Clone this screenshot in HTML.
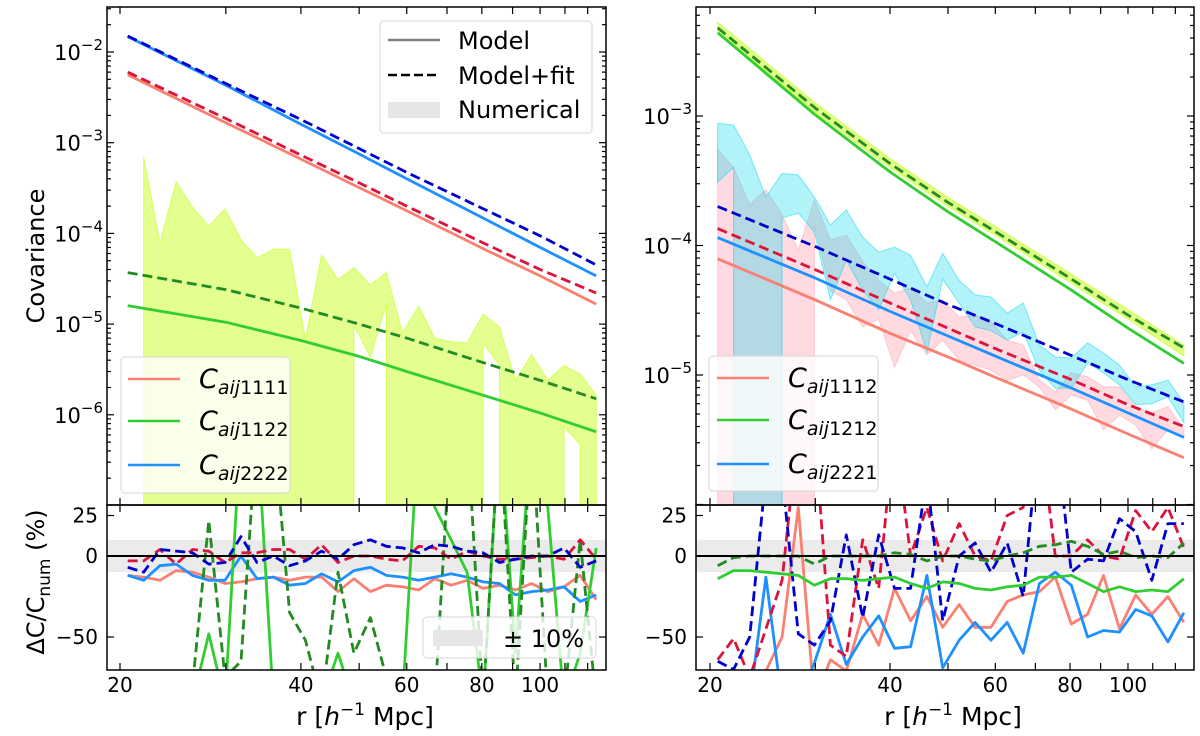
<!DOCTYPE html>
<html><head><meta charset="utf-8">
<style>
html,body{margin:0;padding:0;background:#fff;width:1200px;height:736px;overflow:hidden;}
svg{display:block;font-family:"DejaVu Sans","Liberation Sans",sans-serif;}
</style></head>
<body>
<svg id="fig" width="1200" height="736" viewBox="0 0 1200 736" xmlns="http://www.w3.org/2000/svg">
<defs>
<clipPath id="cTL"><rect x="107" y="7" width="499" height="498"/></clipPath>
<clipPath id="cBL"><rect x="107" y="505" width="499" height="165"/></clipPath>
<clipPath id="cTR"><rect x="696" y="7" width="498" height="498"/></clipPath>
<clipPath id="cBR"><rect x="696" y="505" width="498" height="165"/></clipPath>
</defs>
<g id="gTL" clip-path="url(#cTL)"></g>
<g id="gBL" clip-path="url(#cBL)"></g>
<g id="gTR" clip-path="url(#cTR)"></g>
<g id="gBR" clip-path="url(#cBR)"></g>
<g id="axes"></g>

<text transform="translate(44,256) rotate(-90)" text-anchor="middle" font-size="24">Covariance</text>
<text transform="translate(44,582) rotate(-90)" text-anchor="middle" font-size="24">ΔC/C<tspan font-size="17" dy="6">num</tspan><tspan dy="-6"> (%)</tspan></text>
<text x="365" y="725" text-anchor="middle" font-size="25">r [<tspan font-style="italic">h</tspan><tspan font-size="17" dy="-10">−1</tspan><tspan dy="10"> Mpc]</tspan></text>
<text x="953" y="725" text-anchor="middle" font-size="25">r [<tspan font-style="italic">h</tspan><tspan font-size="17" dy="-10">−1</tspan><tspan dy="10"> Mpc]</tspan></text>

<g>
<rect x="380" y="21" width="212" height="112" rx="4" fill="#fff" fill-opacity="0.8" stroke="#d6d6d6"/>
<line x1="388" y1="40" x2="440" y2="40" stroke="#808080" stroke-width="2.5"/>
<line x1="388" y1="75" x2="440" y2="75" stroke="#000" stroke-width="2.5" stroke-dasharray="9,4"/>
<rect x="388" y="102" width="52" height="16" fill="#e6e6e6"/>
<text x="458" y="49" font-size="24">Model</text>
<text x="458" y="84" font-size="24">Model+fit</text>
<text x="458" y="118" font-size="24">Numerical</text>
</g>
<g>
<rect x="121" y="357" width="169" height="136" rx="4" fill="#fff" fill-opacity="0.8" stroke="#d6d6d6"/>
<line x1="128" y1="379" x2="180" y2="379" stroke="#fa8072" stroke-width="2.5"/>
<line x1="128" y1="421" x2="180" y2="421" stroke="#32cd32" stroke-width="2.5"/>
<line x1="128" y1="465" x2="180" y2="465" stroke="#1e90ff" stroke-width="2.5"/>
<text x="199" y="388" font-size="27" font-style="italic">C<tspan font-size="19" dy="6">aij</tspan><tspan font-size="19" font-style="normal">1111</tspan></text>
<text x="199" y="430" font-size="27" font-style="italic">C<tspan font-size="19" dy="6">aij</tspan><tspan font-size="19" font-style="normal">1122</tspan></text>
<text x="199" y="474" font-size="27" font-style="italic">C<tspan font-size="19" dy="6">aij</tspan><tspan font-size="19" font-style="normal">2222</tspan></text>
</g>
<g>
<rect x="709" y="356" width="169" height="135" rx="4" fill="#fff" fill-opacity="0.8" stroke="#d6d6d6"/>
<line x1="717" y1="378" x2="769" y2="378" stroke="#fa8072" stroke-width="2.5"/>
<line x1="717" y1="420" x2="769" y2="420" stroke="#32cd32" stroke-width="2.5"/>
<line x1="717" y1="464" x2="769" y2="464" stroke="#1e90ff" stroke-width="2.5"/>
<text x="788" y="387" font-size="27" font-style="italic">C<tspan font-size="19" dy="6">aij</tspan><tspan font-size="19" font-style="normal">1112</tspan></text>
<text x="788" y="429" font-size="27" font-style="italic">C<tspan font-size="19" dy="6">aij</tspan><tspan font-size="19" font-style="normal">1212</tspan></text>
<text x="788" y="473" font-size="27" font-style="italic">C<tspan font-size="19" dy="6">aij</tspan><tspan font-size="19" font-style="normal">2221</tspan></text>
</g>
<g>
<rect x="423" y="617" width="173" height="41" rx="4" fill="#fff" fill-opacity="0.8" stroke="#d6d6d6"/>
<rect x="433" y="630" width="50" height="16" fill="#e6e6e6"/>
<text x="503" y="647" font-size="24">± 10%</text>
</g>
</svg>

<script>
const R = [20.6,21.9,23.3,24.8,26.4,28.1,29.9,31.8,33.8,36.0,38.3,40.7,43.3,46.1,49.0,52.2,55.5,59.0,62.8,66.8,71.1,75.6,80.4,85.6,91.0,96.8,103.0,109.6,116.6,124.0];
const rKnots = [20.6,30,40,50,60,80,100,124];
const L1111 = [5.6e-3,1.66e-3,6.6e-4,3.2e-4,1.78e-4,6.9e-5,3.4e-5,1.66e-5];
const L1111fit = [6.0e-3,1.85e-3,7.3e-4,3.6e-4,2.0e-4,8.0e-5,4.0e-5,2.2e-5];
const L2222 = [1.48e-2,4.3e-3,1.6e-3,7.5e-4,4.0e-4,1.5e-4,7.0e-5,3.4e-5];
const L2222fit = [1.5e-2,4.5e-3,1.8e-3,8.6e-4,4.7e-4,1.9e-4,9.4e-5,4.5e-5];
const L1122 = [1.6e-5,1.05e-5,6.6e-6,4.4e-6,3.0e-6,1.66e-6,1.05e-6,6.5e-7];
const L1122fit = [3.7e-5,2.4e-5,1.5e-5,1.0e-5,7.0e-6,3.8e-6,2.4e-6,1.5e-6];
const L1122bandUp = [null,6.9e-4,7.8e-5,3.7e-4,1.95e-4,1.2e-4,1.86e-4,8.5e-5,5.4e-5,6.7e-5,6.7e-5,6.7e-6,5.8e-5,3.1e-5,4.2e-5,2.7e-5,3.7e-5,8.0e-6,1.58e-5,7.0e-6,6.4e-6,6.2e-6,1.29e-5,9.3e-6,2.4e-6,4.6e-6,2.4e-6,3.5e-6,2.8e-6,1.65e-6];
const L1122bandLo = [null,null,null,null,null,null,null,null,null,null,null,null,null,null,9.8e-6,4.3e-6,1.7e-5,null,null,null,null,null,6.2e-6,3.5e-6,null,null,null,7.4e-7,4.7e-7,null];
const dL1111 = [-12,-13,-15,-9,-10,-13,-17,-16,-14,-13,-15,-13,-13,-22,-14,-22,-18,-19,-21,-14,-18,-15,-20,-18,-21,-17,-22,-19,-12,-27];
const dL2222 = [-12,-15,-6,-5,-12,-15,-15,0,-14,-13,-18,-17,-11,-16,-9,-7,-12,-13,-15,-13,-11,-13,-16,-17,-24,-22,-21,-19,-28,-24];
const dL1111fit = [-3,-3,4,-5,4,3,-4,2,2,4,4,-2,7,-4,0,0,-2,-3,6,5,-2,3,0,-2,-2,-1,0,-2,10,-2];
const dL2222fit = [-7,-10,4,3,2,-5,-4,12,-4,0,-6,-3,3,-2,7,10,6,5,2,7,6,3,2,-4,-2,0,0,5,-7,-3];
const dL1122 = [-90,-90,-90,-90,-90,-48,-90,80,80,-90,-90,-90,-90,-60,-90,-90,-90,-90,80,30,10,-10,-90,80,-60,80,30,-90,-60,5];
const dL1122fit = [-90,-90,-90,-90,-80,22,-75,-65,80,80,-35,-52,-90,-10,-60,-38,-75,-90,-90,-90,80,80,-90,80,-90,80,-90,-90,10,-90];
const R1212 = [4.4e-3,1.02e-3,3.7e-4,1.82e-4,1.07e-4,4.6e-5,2.3e-5,1.23e-5];
const R1212fit = [4.8e-3,1.15e-3,4.3e-4,2.15e-4,1.28e-4,5.6e-5,2.9e-5,1.62e-5];
const R1212bandUp = [5.3e-3,1.26e-3,4.7e-4,2.35e-4,1.4e-4,6.1e-5,3.2e-5,1.7e-5];
const R1212bandLo = [4.5e-3,1.07e-3,4.0e-4,2.0e-4,1.2e-4,5.2e-5,2.7e-5,1.4e-5];
const R1112 = [7.9e-5,3.8e-5,2.1e-5,1.38e-5,9.6e-6,5.5e-6,3.5e-6,2.3e-6];
const R1112fit = [1.35e-4,6.5e-5,3.6e-5,2.3e-5,1.6e-5,9.3e-6,5.9e-6,4.0e-6];
const R2221 = [1.15e-4,5.6e-5,3.1e-5,2.0e-5,1.4e-5,8.0e-6,5.1e-6,3.3e-6];
const R2221fit = [2.0e-4,9.8e-5,5.5e-5,3.5e-5,2.5e-5,1.43e-5,9.2e-6,6.2e-6];
const R2221bandUp = [8.8e-4,8.5e-4,5.0e-4,2.37e-4,3.6e-4,3.5e-4,2.37e-4,1.44e-4,1.88e-4,1.16e-4,8.9e-5,9.7e-5,8.4e-5,4.8e-5,8.7e-5,5.4e-5,4.15e-5,4.0e-5,3.0e-5,3.6e-5,1.7e-5,1.38e-5,1.35e-5,1.77e-5,1.48e-5,1.19e-5,8.1e-6,8.4e-6,9.1e-6,6.1e-6];
const R2221bandLo = [3.1e-4,4.0e-4,null,null,1.63e-4,1.78e-4,1.27e-4,3.8e-5,7.7e-5,4.5e-5,3.2e-5,6.1e-5,3.8e-5,1.5e-5,5.5e-5,3.6e-5,2.35e-5,2.2e-5,1.86e-5,2.15e-5,1.09e-5,7.9e-6,7.9e-6,1.24e-5,1.04e-5,8.4e-6,5.9e-6,6.0e-6,6.8e-6,4.3e-6];
const R1112bandUp = [5.5e-4,4.0e-4,2.05e-4,2.7e-4,1.72e-4,9.2e-5,2.25e-4,1.1e-4,1.2e-4,7.5e-5,5.4e-5,4.3e-5,4.7e-5,3.6e-5,3.8e-5,2.8e-5,2.9e-5,2.57e-5,1.86e-5,1.7e-5,9.1e-6,7.4e-6,1.04e-5,9.7e-6,8.1e-6,8.1e-6,5.7e-6,5.1e-6,5.7e-6,3.8e-6];
const R1112bandLo = [1.78e-4,null,null,null,null,null,1.44e-4,4.5e-5,3.8e-5,2.35e-5,2.7e-5,1.15e-5,2.2e-5,1.43e-5,1.86e-5,1.3e-5,1.19e-5,1.09e-5,9.1e-6,1.0e-5,8.1e-6,5.4e-6,7.0e-6,6.4e-6,3.8e-6,4.9e-6,4.1e-6,2.7e-6,3.8e-6,3.3e-6];
const dR1212 = [-14,-9,-9,-10,-11,-12,-18,-14,-14,-15,-14,-13,-17,-20,-16,-17,-20,-21,-19,-18,-13,-13,-12,-17,-22,-19,-22,-21,-22,-14];
const dR1212fit = [-6,-1,0,0,0,0,-5,0,0,0,0,2,1,-3,0,0,-2,-3,0,2,6,7,9,6,1,3,-1,0,-1,8];
const dR1112 = [-90,-90,-90,-71,-50,30,-90,-64,-71,-36,-55,-20,-40,-25,-44,-30,-44,-44,-28,-24,-22,-13,-42,-36,-12,-45,-24,-36,-25,-41];
const dR2221 = [-90,-90,-90,-13,-90,-90,-66,-36,-67,-50,-37,-57,-56,-12,-69,-52,-41,-52,-41,-60,-17,-10,-18,-50,-46,-47,-33,-37,-53,-35];
const dR1112fit = [-64,-51,-75,-45,-15,80,80,-55,-62,10,-20,80,0,30,-3,20,0,-3,25,30,80,0,0,10,0,-2,28,15,30,5];
const dR2221fit = [-65,-70,-50,50,50,-48,-55,-40,13,-38,13,-20,-20,50,-40,0,8,-10,8,-25,80,80,-10,-2,-3,23,15,-15,20,20];

const NS = 'http://www.w3.org/2000/svg';
function mk(parent, tag, attrs){ const e=document.createElementNS(NS,tag); for(const k in attrs) e.setAttribute(k,attrs[k]); parent.appendChild(e); return e; }
const xL = r => 120 + 601*Math.log10(r/20);
const xR = r => 710 + 598*Math.log10(r/20);
const yLT = v => 52 + (-2 - Math.log10(v))*90.7;
const yRT = v => 116 + (-3 - Math.log10(v))*129.5;
const yB = p => 556 - p*1.62;

function line(g, xs, ys, xf, yf, color, dash, name){
  const pts = xs.map((r,i)=> xf(r).toFixed(1)+','+yf(ys[i]).toFixed(1)).join(' ');
  const e = mk(g,'polyline',{points:pts,fill:'none',stroke:color,'stroke-width':2.8,'stroke-linejoin':'round'});
  if(dash) e.setAttribute('stroke-dasharray','10,5');
  
  
}
const FLOOR_Y = 508;
function band(g, xs, up, lo, xf, yf, fill, op, name){
  const P=[]; const idx=[];
  for(let i=0;i<xs.length;i++){ if(up[i]!==null) idx.push(i); }
  idx.forEach(i=>P.push(xf(xs[i]).toFixed(1)+','+yf(up[i]).toFixed(1)));
  const rev = idx.slice().reverse();
  rev.forEach((i,k)=>{
    const x = xf(xs[i]).toFixed(1);
    if(lo[i]===null){ P.push(x+','+FLOOR_Y); return; }
    const prev = k>0 ? rev[k-1] : null, next = k<rev.length-1 ? rev[k+1] : null;
    if(prev!==null && lo[prev]===null) P.push(x+','+FLOOR_Y);
    P.push(x+','+Math.min(yf(lo[i]),FLOOR_Y).toFixed(1));
    if(next!==null && lo[next]===null) P.push(x+','+FLOOR_Y);
  });
  const e = mk(g,'polygon',{points:P.join(' '),fill:fill,'fill-opacity':op,stroke:fill,'stroke-opacity':Math.min(1,op+0.2),'stroke-width':1});
  
  
}

const gTL=document.getElementById('gTL'), gBL=document.getElementById('gBL'), gTR=document.getElementById('gTR'), gBR=document.getElementById('gBR'), ax=document.getElementById('axes');

band(gTL, R, L1122bandUp, L1122bandLo, xL, yLT, '#ccff33', 0.55, 'band-1122');
line(gTL, rKnots, L1111, xL, yLT, '#fa8072', false, 'line-1111-model');
line(gTL, rKnots, L1111fit, xL, yLT, '#dc143c', true, 'line-1111-fit');
line(gTL, rKnots, L2222, xL, yLT, '#1e90ff', false, 'line-2222-model');
line(gTL, rKnots, L2222fit, xL, yLT, '#0000cd', true, 'line-2222-fit');
line(gTL, rKnots, L1122, xL, yLT, '#32cd32', false, 'line-1122-model');
line(gTL, rKnots, L1122fit, xL, yLT, '#228b22', true, 'line-1122-fit');

band(gTR, R, R1112bandUp, R1112bandLo, xR, yRT, '#ffb6c1', 0.5, 'band-1112');
band(gTR, R, R2221bandUp, R2221bandLo, xR, yRT, '#00d8f0', 0.3, 'band-2221');
band(gTR, rKnots, R1212bandUp, R1212bandLo, xR, yRT, '#ccff33', 0.6, 'band-1212');
line(gTR, rKnots, R1112, xR, yRT, '#fa8072', false, 'line-1112-model');
line(gTR, rKnots, R1112fit, xR, yRT, '#dc143c', true, 'line-1112-fit');
line(gTR, rKnots, R2221, xR, yRT, '#1e90ff', false, 'line-2221-model');
line(gTR, rKnots, R2221fit, xR, yRT, '#0000cd', true, 'line-2221-fit');
line(gTR, rKnots, R1212, xR, yRT, '#32cd32', false, 'line-1212-model');
line(gTR, rKnots, R1212fit, xR, yRT, '#228b22', true, 'line-1212-fit');

[[gBL,107,499],[gBR,696,498]].forEach(([g,x0,w])=>{
  const b = mk(g,'rect',{x:x0,y:yB(10),width:w,height:yB(-10)-yB(10),fill:'#ebebeb'});
  
  
});
line(gBL, R, dL1111, xL, yB, '#fa8072', false, 'diff-1111-model');
line(gBL, R, dL2222, xL, yB, '#1e90ff', false, 'diff-2222-model');
line(gBL, R, dL1122, xL, yB, '#32cd32', false, 'diff-1122-model');
line(gBL, R, dL1122fit, xL, yB, '#228b22', true, 'diff-1122-fit');
line(gBL, R, dL1111fit, xL, yB, '#dc143c', true, 'diff-1111-fit');
line(gBL, R, dL2222fit, xL, yB, '#0000cd', true, 'diff-2222-fit');
line(gBR, R, dR1112, xR, yB, '#fa8072', false, 'diff-1112-model');
line(gBR, R, dR2221, xR, yB, '#1e90ff', false, 'diff-2221-model');
line(gBR, R, dR1112fit, xR, yB, '#dc143c', true, 'diff-1112-fit');
line(gBR, R, dR2221fit, xR, yB, '#0000cd', true, 'diff-2221-fit');
line(gBR, R, dR1212, xR, yB, '#32cd32', false, 'diff-1212-model');
line(gBR, R, dR1212fit, xR, yB, '#228b22', true, 'diff-1212-fit');
[[gBL,107,606],[gBR,696,1194]].forEach(([g,a,b2])=>{
  const z = mk(g,'line',{x1:a,x2:b2,y1:yB(0),y2:yB(0),stroke:'#000','stroke-width':2});
  
  
});

const xTickVals = [20,30,40,50,60,70,80,90,100,110,120];
const xTickLabels = ['20','','40','','60','','80','','100','',''];
function tk(x1,y1,x2,y2,name){ const t=mk(ax,'line',{x1:x1,y1:y1,x2:x2,y2:y2,stroke:'#000','stroke-width':1.2});   }
function frame(x,y,w,h,name){ const f=mk(ax,'rect',{x:x,y:y,width:w,height:h,fill:'none',stroke:'#000','stroke-width':1.5});   }
[[xL,107,606,'left'],[xR,696,1194,'right']].forEach(([xf,x0,x1,side])=>{
  frame(x0,7,x1-x0,498, side+'-top-frame');
  frame(x0,505,x1-x0,165, side+'-bottom-frame');
  xTickVals.forEach((r,i)=>{
    const x=xf(r);
    tk(x,7,x,14,'x-tick'); tk(x,505,x,498,'x-tick'); tk(x,505,x,512,'x-tick'); tk(x,670,x,663,'x-tick');
    if(xTickLabels[i]){
      const t=mk(ax,'text',{x:x,y:692,'text-anchor':'middle','font-size':20}); t.textContent=xTickLabels[i];
      
      
    }
  });
  const bTicks=[25,0,-50], bLabels=['25','0','−50'];
  bTicks.forEach((p,i)=>{
    const y=yB(p); tk(x0,y,x0+7,y,'y-tick'); tk(x1,y,x1-7,y,'y-tick');
    const t=mk(ax,'text',{x:x0-9,y:y+7,'text-anchor':'end','font-size':20}); t.textContent=bLabels[i];
    
    
  });
});
function logTicks(yf,x0,x1,lo,hi,labDecades){
  for(let d=lo; d<=hi; d++){
    for(let m=1;m<10;m++){
      const v=m*Math.pow(10,d), y=yf(v);
      if(y<7||y>505) continue;
      const L = m===1?7:4;
      tk(x0,y,x0+L,y,'y-tick'); tk(x1,y,x1-L,y,'y-tick');
      if(m===1 && labDecades.includes(d)){
        const t=mk(ax,'text',{x:x0-4,y:y+8,'text-anchor':'end','font-size':21});
        
        
        t.appendChild(document.createTextNode('10'));
        const s=mk(t,'tspan',{'font-size':15,dy:-10});
        s.textContent='−'+(-d);
      }
    }
  }
}
logTicks(yLT,107,606,-8,-1,[-2,-3,-4,-5,-6]);
logTicks(yRT,696,1194,-7,-2,[-3,-4,-5]);
</script>
</body></html>
